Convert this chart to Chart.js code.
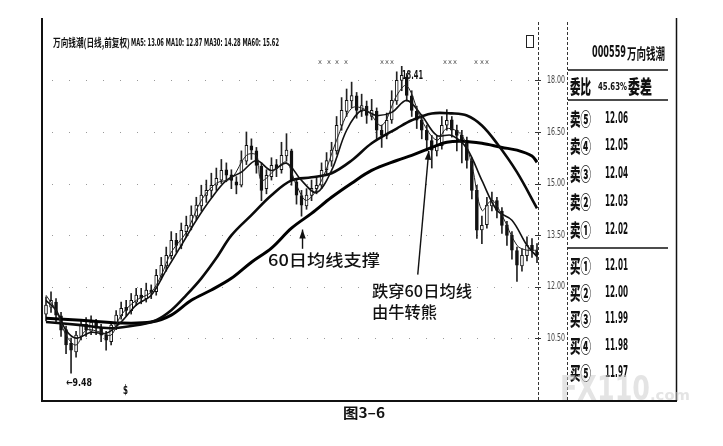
<!DOCTYPE html>
<html><head><meta charset="utf-8">
<script src="https://cdn.jsdelivr.net/npm/chart.js@4.4.1/dist/chart.umd.min.js"></script>
<style>
html,body{margin:0;padding:0;background:#fff;}
#wrap{position:relative;width:723px;height:446px;overflow:hidden;background:#fff;}
#c{position:absolute;left:0;top:0;}
.t{position:absolute;white-space:nowrap;line-height:1;transform-origin:0 50%;color:#111;}
</style></head><body>
<div id="wrap"><canvas id="c" width="723" height="446"></canvas></div>
<script>
// ---- data ----
const opens  = [11.20,11.40,11.55,11.15,10.75,10.35,10.10,10.55,10.90,10.70,10.95,10.80,10.60,10.40,10.85,11.15,11.40,11.30,11.55,11.75,
11.65,11.90,11.85,12.30,12.60,12.90,13.35,13.20,13.60,13.75,14.05,14.35,14.65,14.80,14.95,15.10,15.40,15.25,15.05,14.95,
15.65,16.10,15.95,15.50,14.85,15.20,15.55,15.40,15.80,15.95,15.05,14.65,14.35,14.65,14.85,14.95,15.40,15.65,15.95,16.70,
17.10,17.40,17.55,17.10,17.25,16.95,17.10,16.55,16.40,16.85,17.40,18.00,18.10,17.55,17.10,16.85,16.55,16.25,15.95,16.10,
16.70,16.85,16.55,16.40,16.25,15.65,14.80,13.65,13.80,14.35,14.50,14.20,13.80,13.50,13.05,12.60,12.90,13.20,13.05];
const closes = [11.46,11.60,11.17,10.73,10.30,10.15,10.59,10.88,10.73,10.97,10.79,10.59,10.44,10.88,11.17,11.37,11.31,11.60,11.75,11.66,
11.90,11.84,12.33,12.62,12.91,13.35,13.20,13.64,13.78,14.08,14.37,14.66,14.80,14.95,15.15,15.38,15.24,15.09,14.95,15.67,
16.11,15.97,15.53,14.80,15.24,15.53,15.44,15.82,15.97,15.09,14.66,14.37,14.66,14.86,14.95,15.38,15.67,15.97,16.69,17.13,
17.42,17.56,17.13,17.27,16.98,17.13,16.55,16.40,16.84,17.42,18.00,18.15,17.56,17.13,16.84,16.55,16.26,15.97,16.11,16.69,
16.84,16.55,16.40,16.26,15.67,14.80,13.64,13.78,14.37,14.51,14.22,13.78,13.49,13.06,12.62,12.91,13.20,13.06,12.91];
const highs  = [11.70,11.85,11.65,11.25,10.85,10.50,10.70,11.05,11.10,11.15,11.05,10.90,10.70,10.95,11.30,11.55,11.60,11.80,11.95,11.95,
12.10,12.05,12.50,12.85,13.15,13.60,13.55,13.85,14.05,14.35,14.60,14.95,15.10,15.30,15.45,15.70,15.60,15.40,15.20,15.95,
16.50,16.30,16.05,15.60,15.40,15.75,15.70,16.20,16.45,16.00,15.15,14.80,14.85,15.10,15.20,15.60,15.90,16.20,16.95,17.50,
17.75,17.95,17.65,17.60,17.40,17.45,17.20,16.70,17.05,17.70,18.25,18.41,18.20,17.70,17.25,17.00,16.70,16.40,16.40,16.95,
17.15,16.95,16.70,16.55,16.35,15.75,14.95,14.05,14.60,14.75,14.60,14.30,13.90,13.60,13.15,13.10,13.45,13.40,13.25];
const lows   = [11.00,11.25,10.95,10.55,10.05,9.48,9.95,10.45,10.55,10.60,10.60,10.40,10.15,10.30,10.75,11.05,11.15,11.20,11.45,11.50,
11.55,11.65,11.75,12.20,12.45,12.80,13.00,13.10,13.45,13.65,13.95,14.20,14.45,14.60,14.80,15.00,15.05,14.85,14.70,14.90,
15.55,15.70,15.30,14.50,14.70,15.10,15.20,15.30,15.65,14.95,14.40,14.05,14.25,14.50,14.70,14.85,15.25,15.50,15.85,16.55,
16.95,17.20,16.90,16.95,16.75,16.85,16.30,16.05,16.30,16.75,17.30,17.70,17.40,16.95,16.60,16.30,15.95,15.45,15.80,16.00,
16.55,16.35,15.95,15.60,15.45,14.55,13.40,13.25,13.70,14.20,14.00,13.55,13.20,12.80,12.15,12.45,12.75,12.85,12.70];

const ma5Days  = [0,2,4,6,8,11,13,15,18,21,23,25,28,31,34,37,40,42,43,46,48,50,52,55,58,61,64,67,70,72,75,78,80,83,85,87,89,91,94,96,98];
const ma5Vals  = [11.75,11.31,10.59,10.30,10.73,10.67,10.59,11.17,11.60,11.84,12.33,13.00,13.58,14.51,15.01,15.15,15.82,15.82,15.09,15.44,15.62,14.95,14.51,15.09,16.26,17.19,17.13,16.69,17.56,17.85,16.84,16.26,16.60,16.40,15.53,14.22,14.51,14.08,13.20,13.06,13.06];
const ma10Days = [0,2,4,6,9,12,15,18,21,24,27,30,33,36,39,42,45,48,51,54,57,60,63,66,69,72,75,78,81,84,87,90,93,96,98];
const ma10Vals = [11.60,11.31,10.73,10.50,10.67,10.64,10.97,11.46,11.75,12.48,13.20,13.93,14.57,15.09,15.33,15.67,15.38,15.59,15.09,14.74,15.38,16.55,17.13,16.98,17.07,17.42,16.98,16.40,16.40,16.02,15.09,14.22,13.93,13.20,12.87];
const ma30Days = [0,7,13,19,22,25,28,31,34,37,41,45,49,53,57,61,65,70,73,77,81,84,87,90,94,98];
const ma30Vals = [10.97,10.88,10.79,10.90,11.02,11.31,11.75,12.24,12.83,13.49,14.08,14.66,15.09,15.18,15.30,15.67,16.17,16.60,16.84,17.04,17.04,16.98,16.69,16.17,15.33,14.28];
const ma60Days = [0,7,15,21,25,29,33,37,41,45,49,53,57,61,65,70,73,77,80,83,87,91,94,97,98];
const ma60Vals = [11.08,11.02,10.94,10.97,11.17,11.60,11.90,12.24,12.71,13.12,13.70,14.13,14.60,15.01,15.38,15.67,15.82,16.05,16.20,16.23,16.17,16.05,15.97,15.80,15.62];

const tickValues = [10.5,12.0,13.5,15.0,16.5,18.0];
const sellLabels = ['卖⑤','卖④','卖③','卖②','卖①'];
const sellPrices = ['12.06','12.05','12.04','12.03','12.02'];
const buyLabels  = ['买①','买②','买③','买④','买⑤'];
const buyPrices  = ['12.01','12.00','11.99','11.98','11.97'];

// ---- build datasets ----
const wickData = highs.map((h,i)=>({x:i,y:[lows[i],h]}));
const bodyData = closes.map((c,i)=>({x:i,y:[opens[i],c]}));
const bodyFill = closes.map((c,i)=> c>=opens[i] ? '#ffffff' : '#111111');
const pairs = (d,v)=>d.map((x,i)=>({x:x,y:v[i]}));

const INK='#111';
const frame = {
  id:'frame',
  beforeDraw(ch){
    const c=ch.ctx, a=ch.chartArea, y=ch.scales.y;
    c.save(); c.fillStyle='#fff'; c.fillRect(0,0,ch.width,ch.height);
    c.strokeStyle='#999'; c.lineWidth=1; c.setLineDash([1,16]);
    y.ticks.forEach(t=>{const py=Math.round(y.getPixelForValue(t.value))+0.5;
      c.beginPath(); c.moveTo(a.left+8,py); c.lineTo(a.right,py); c.stroke();});
    c.restore();
  },
  afterDraw(ch){
    const c=ch.ctx, a=ch.chartArea, x=ch.scales.x, y=ch.scales.y;
    c.save();
    c.strokeStyle=INK; c.lineWidth=2; c.setLineDash([]);
    c.beginPath(); c.moveTo(42,18); c.lineTo(42,401); c.lineTo(677,401); c.stroke();
    c.lineWidth=1.5; c.beginPath(); c.moveTo(676.5,18); c.lineTo(676.5,401); c.stroke();
    c.lineWidth=1; c.strokeStyle='#333'; c.setLineDash([3,2]);
    c.beginPath(); c.moveTo(538.5,22); c.lineTo(538.5,400); c.stroke();
    c.beginPath(); c.moveTo(567.5,22); c.lineTo(567.5,400); c.stroke();
    c.setLineDash([]);
    c.strokeStyle=INK; c.lineWidth=1.5;
    [70,100,248].forEach(py=>{c.beginPath(); c.moveTo(568,py); c.lineTo(668,py); c.stroke();});
    c.fillStyle='#444'; c.font='11px "DejaVu Sans"'; c.textBaseline='middle';
    y.ticks.forEach(t=>{
      const py=y.getPixelForValue(t.value);
      c.strokeStyle='#333'; c.lineWidth=1;
      c.beginPath(); c.moveTo(535,Math.round(py)+0.5); c.lineTo(541,Math.round(py)+0.5); c.stroke();
      const s=t.value.toFixed(2), w=c.measureText(s).width;
      c.save(); c.translate(547,py); c.scale(18/w,1); c.fillText(s,0,0); c.restore();
    });
    const arrow=(d0,v0,d1,v1)=>{
      const x0=x.getPixelForValue(d0), y0=y.getPixelForValue(v0), x1=x.getPixelForValue(d1), y1=y.getPixelForValue(v1);
      c.strokeStyle=INK; c.fillStyle=INK; c.lineWidth=1.4;
      c.beginPath(); c.moveTo(x0,y0); c.lineTo(x1,y1); c.stroke();
      const ang=Math.atan2(y1-y0,x1-x0), L=9, W=3.2;
      c.beginPath(); c.moveTo(x1,y1);
      c.lineTo(x1-L*Math.cos(ang)+W*Math.sin(ang), y1-L*Math.sin(ang)-W*Math.cos(ang));
      c.lineTo(x1-L*Math.cos(ang)-W*Math.sin(ang), y1-L*Math.sin(ang)+W*Math.cos(ang));
      c.closePath(); c.fill();
    };
    arrow(51.2,13.10,51.2,13.66);
    arrow(74.2,12.35,76.4,15.95);
    c.restore();
  }
};

new Chart(document.getElementById('c'),{
  type:'bar',
  data:{datasets:[
    {type:'line',label:'MA5',data:pairs(ma5Days,ma5Vals),borderColor:'#222',borderWidth:1,pointRadius:0,tension:0.35,order:1},
    {type:'line',label:'MA10',data:pairs(ma10Days,ma10Vals),borderColor:'#111',borderWidth:1.6,pointRadius:0,tension:0.35,order:2},
    {type:'line',label:'MA30',data:pairs(ma30Days,ma30Vals),borderColor:'#0a0a0a',borderWidth:2.6,pointRadius:0,tension:0.35,order:3},
    {type:'line',label:'MA60',data:pairs(ma60Days,ma60Vals),borderColor:'#000',borderWidth:3,pointRadius:0,tension:0.35,order:4},
    {label:'body',data:bodyData,backgroundColor:bodyFill,borderColor:'#111',borderWidth:1,borderSkipped:false,barThickness:3,grouped:false,order:5},
    {label:'wick',data:wickData,backgroundColor:'#222',borderWidth:0,barThickness:1,grouped:false,order:6}
  ]},
  options:{
    responsive:false,animation:false,devicePixelRatio:1,
    layout:{padding:{left:44,right:185,top:22,bottom:46}},
    plugins:{legend:{display:false},tooltip:{enabled:false}},
    scales:{
      x:{type:'linear',min:-0.4,max:98.2,offset:false,display:false},
      y:{type:'linear',min:8.7,max:19.7,display:false,
         afterBuildTicks:s=>{s.ticks=tickValues.map(v=>({value:v}));}}
    }
  },
  plugins:[frame]
});

// ---- text overlay ----
const wrap=document.getElementById('wrap');
function put(txt,x,cy,w,size,o){
  o=o||{};
  const d=document.createElement('div'); d.className='t'; d.textContent=txt;
  d.style.fontSize=size+'px';
  d.style.fontFamily=o.family||'"Noto Sans CJK SC","DejaVu Sans",sans-serif';
  d.style.fontWeight=o.weight||'700';
  if(o.color) d.style.color=o.color;
  d.style.left=x+'px'; d.style.top=(cy-size/2)+'px';
  wrap.appendChild(d);
  if(w){const s=w/d.getBoundingClientRect().width; d.style.transform='scaleX('+s+')';}
  return d;
}
const LAT='"DejaVu Sans",sans-serif';
put('万向钱潮(日线,前复权)',53,42,77,11,{});
put('MA5: 13.06 MA10: 12.87 MA30: 14.28 MA60: 15.62',131,42,148,10.5,{family:LAT});
put('000559',592,52,34,15,{family:LAT});
put('万向钱潮',627,52,38,15,{});
put('委比',570,85,21,19,{weight:'900'});
put('45.63%',598,86,29,11,{family:LAT});
put('委差',628,85,24,19,{weight:'900'});
const sellY=[118,145,173,201,229], buyY=[265,292,318,345,372];
sellLabels.forEach((s,i)=>{put(s,570,sellY[i],21,18,{weight:'900'}); put(sellPrices[i],605,sellY[i],23,15,{family:LAT});});
buyLabels.forEach((s,i)=>{put(s,570,buyY[i],21,18,{weight:'900'}); put(buyPrices[i],605,buyY[i],23,15,{family:LAT});});
put('60日均线支撑',268,259,112,16,{weight:'500'});
put('跌穿60日均线',372,290,100,16,{weight:'500'});
put('由牛转熊',372,311,65,16,{weight:'500'});
put('18.41',402,75,21,12,{family:LAT});
put('←9.48',66,382,26,11,{family:LAT});
put('$',123,389,5,13,{family:LAT});
put('图3–6',343,412,42,14,{});
put('FX110',560,388,90,34,{family:LAT,color:'rgba(205,205,205,0.55)',weight:'900'});
put('.com',650,395,40,14,{family:LAT,color:'rgba(205,205,205,0.55)'});
[318,327,335,344,380,385,390,443,448,453,474,480,485].forEach(px=>put('x',px,62,4,7,{family:LAT,color:'#555',weight:'400'}));
const ic=document.createElement('div');
ic.style.cssText='position:absolute;left:526px;top:35px;width:6px;height:11px;border:1.5px solid #222;';
wrap.appendChild(ic);
</script>
</body></html>
